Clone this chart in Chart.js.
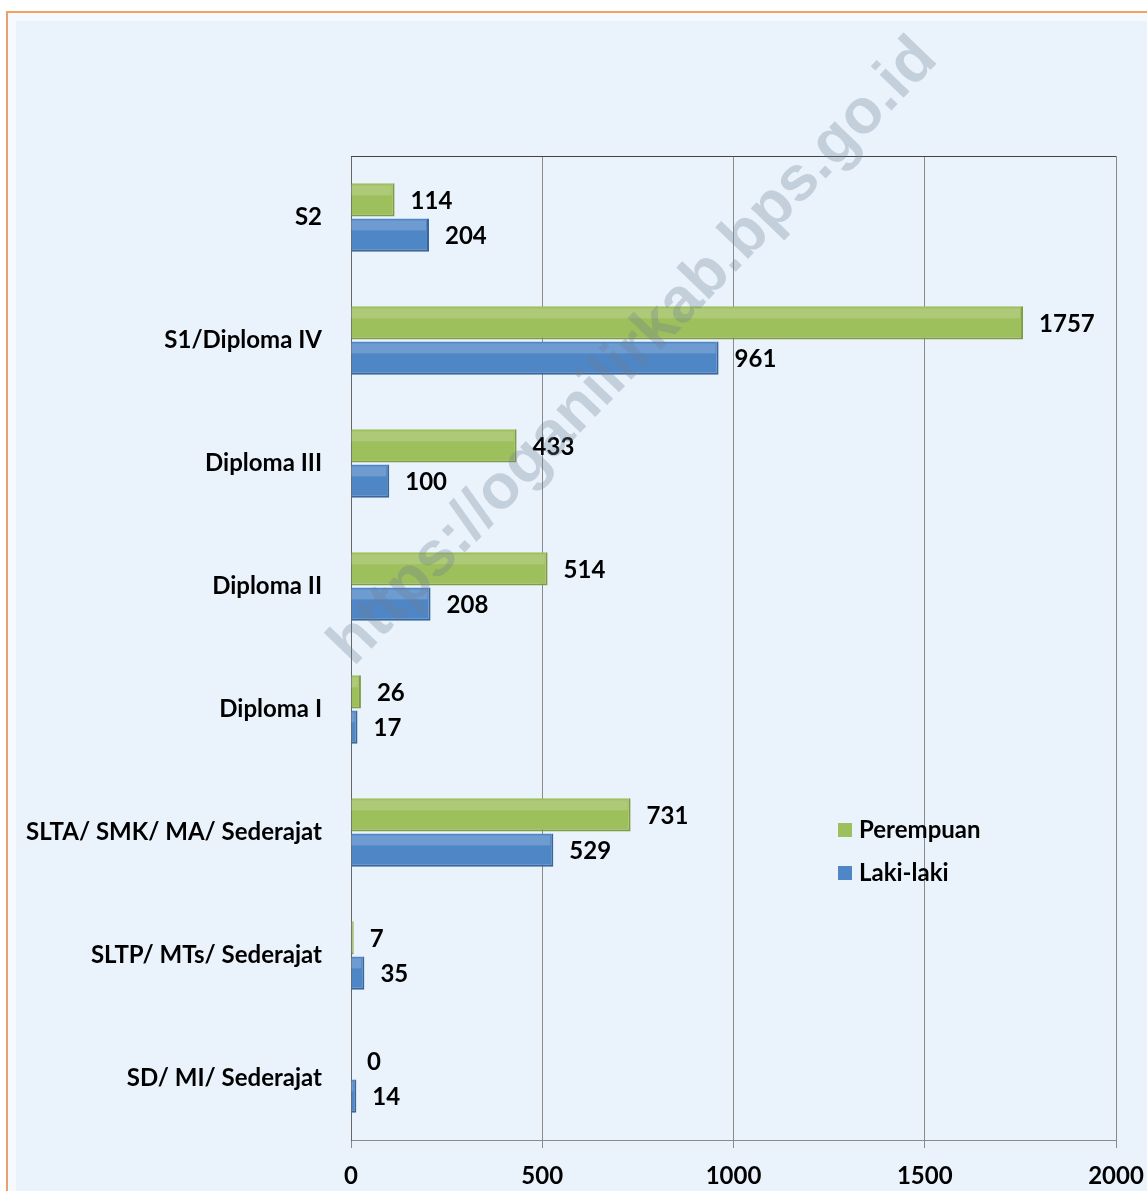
<!DOCTYPE html>
<html>
<head>
<meta charset="utf-8">
<script src="https://cdn.jsdelivr.net/npm/chart.js@4.4.1/dist/chart.umd.min.js"></script>
<style>
  html, body { margin: 0; padding: 0; background: #ffffff; }
  .frame {
    position: absolute; left: 6px; top: 11px; width: 1160px; height: 1200px;
    border-top: 2px solid #f4a060; border-left: 2px solid #e8a070;
    background: #eaf3fc;
    box-shadow: inset 8px 8px 0 #f6faff;
  }
  .chart-box { position: absolute; left: 0; top: 0; width: 1147px; height: 1191px; }
</style>
</head>
<body>
<div class="frame"></div>
<div class="chart-box"><canvas id="eduChart"></canvas></div>
<script>
  const categories = ['S2', 'S1/Diploma IV', 'Diploma III', 'Diploma II', 'Diploma I',
    'SLTA/ SMK/ MA/ Sederajat', 'SLTP/ MTs/ Sederajat', 'SD/ MI/ Sederajat'];
  const perempuan = [114, 1757, 433, 514, 26, 731, 7, 0];
  const lakiLaki = [204, 961, 100, 208, 17, 529, 35, 14];
  const xTicks = [0, 500, 1000, 1500, 2000];
  const watermark = 'https://oganilirkab.bps.go.id';

  const FONT = 'Lato, "Open Sans", sans-serif';

  // value labels at the end of each bar, plus a light bevel strip on the bars
  const valueLabels = {
    id: 'valueLabels',
    afterDatasetsDraw(chart) {
      const ctx = chart.ctx;
      ctx.save();
      chart.data.datasets.forEach((ds, i) => {
        chart.getDatasetMeta(i).data.forEach(bar => {
          const w = bar.x - bar.base;
          if (w < 3) return;
          ctx.fillStyle = 'rgba(255,255,255,0.18)';
          ctx.fillRect(bar.base, bar.y - bar.height / 2 + 2, w - 3, bar.height * 0.3);
        });
      });
      ctx.font = 'bold 24px ' + FONT;
      ctx.fillStyle = '#000';
      ctx.textAlign = 'left';
      ctx.textBaseline = 'middle';
      chart.data.datasets.forEach((ds, i) => {
        chart.getDatasetMeta(i).data.forEach((bar, j) => {
          ctx.fillText(String(ds.data[j]), bar.x + 16, bar.y + 1);
        });
      });
      ctx.restore();
    }
  };

  // plot top border, legend inside the plot and the watermark
  const extras = {
    id: 'extras',
    beforeDatasetsDraw(chart) {
      const a = chart.chartArea, ctx = chart.ctx;
      ctx.save();
      ctx.strokeStyle = '#444';
      ctx.lineWidth = 1;
      ctx.beginPath();
      ctx.moveTo(a.left, a.top + 0.5);
      ctx.lineTo(a.right, a.top + 0.5);
      ctx.stroke();
      ctx.restore();
    },
    afterDraw(chart) {
      const ctx = chart.ctx;
      ctx.save();
      ctx.font = 'bold 24px ' + FONT;
      ctx.textBaseline = 'middle';
      const rows = [830, 873];
      chart.data.datasets.forEach((ds, i) => {
        const y = rows[i];
        ctx.fillStyle = ds.backgroundColor;
        ctx.fillRect(838, y - 7, 14, 14);
        ctx.fillStyle = '#000';
        ctx.fillText(ds.label, 859, y);
      });
      ctx.restore();

      ctx.save();
      ctx.translate(634, 352);
      ctx.rotate(-46 * Math.PI / 180);
      ctx.font = 'bold 63px "Liberation Sans", Arial, sans-serif';
      ctx.textAlign = 'center';
      ctx.textBaseline = 'middle';
      ctx.fillStyle = 'rgba(110, 125, 145, 0.3)';
      ctx.fillText(watermark, 0, 0);
      ctx.restore();
    }
  };

  new Chart(document.getElementById('eduChart'), {
    type: 'bar',
    data: {
      labels: categories,
      datasets: [
        {
          label: 'Perempuan',
          data: perempuan,
          backgroundColor: '#9dbf5c',
          borderColor: '#7f9c45',
          borderWidth: { bottom: 2, right: 2, top: 0, left: 0 },
          categoryPercentage: 0.57,
          barPercentage: 0.95
        },
        {
          label: 'Laki-laki',
          data: lakiLaki,
          backgroundColor: '#4f86c6',
          borderColor: '#3a6699',
          borderWidth: { bottom: 2, right: 2, top: 0, left: 0 },
          categoryPercentage: 0.57,
          barPercentage: 0.95
        }
      ]
    },
    options: {
      indexAxis: 'y',
      responsive: true,
      maintainAspectRatio: false,
      animation: false,
      layout: { padding: { left: 0, top: 156, right: 31, bottom: 0 } },
      plugins: {
        legend: { display: false },
        tooltip: { enabled: false }
      },
      scales: {
        x: {
          min: 0,
          max: 2000,
          afterBuildTicks(axis) { axis.ticks = xTicks.map(v => ({ value: v })); },
          afterFit(axis) {
            axis.height = 51;
            axis.paddingLeft = 0;
            axis.paddingRight = 0;
          },
          grid: { color: '#8a8a8a', lineWidth: 1, tickLength: 8, drawTicks: true },
          border: { color: '#8a8a8a' },
          ticks: {
            color: '#000',
            padding: 14,
            callback: v => String(v),
            font: { family: FONT, size: 24, weight: 'bold' }
          }
        },
        y: {
          afterFit(axis) {
            axis.width = 351;
            axis.paddingTop = 0;
            axis.paddingBottom = 0;
          },
          grid: { display: false },
          border: { color: '#666' },
          ticks: {
            color: '#000',
            padding: 21,
            font: { family: FONT, size: 24, weight: 'bold' }
          }
        }
      }
    },
    plugins: [valueLabels, extras]
  });
</script>
</body>
</html>
